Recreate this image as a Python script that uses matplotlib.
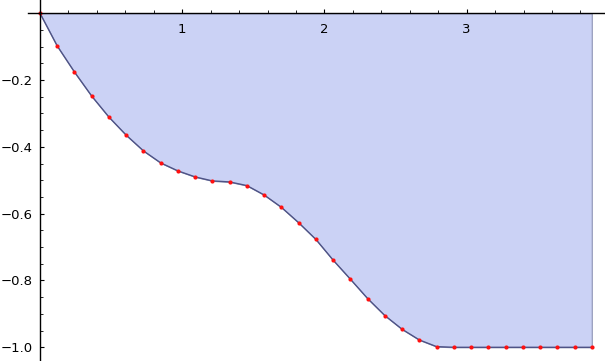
import numpy as np
import matplotlib
matplotlib.use("Agg")
from matplotlib import pyplot as plt
from matplotlib.ticker import MultipleLocator

# sample positions (33 points, step ~0.1213) and values
x_step = 0.12125
x_vals = [i * x_step for i in range(33)]
y_vals = [0.0, -0.098, -0.176, -0.248, -0.311, -0.365, -0.412, -0.448,
          -0.472, -0.490, -0.502, -0.505, -0.516, -0.544, -0.581, -0.627,
          -0.677, -0.739, -0.796, -0.854, -0.905, -0.946, -0.978, -0.998,
          -1.0, -1.0, -1.0, -1.0, -1.0, -1.0, -1.0, -1.0, -1.0]

x_major = [1, 2, 3]
y_major = [-0.2, -0.4, -0.6, -0.8, -1.0]

fig = plt.figure(figsize=(6.05, 3.61), dpi=100)
ax = fig.add_axes([28 / 605, 0, 577 / 605, 1])

x = np.array(x_vals)
y = np.array(y_vals)

ax.fill_between(x, y, 0, facecolor='#cbd2f5', edgecolor='#8e93b5', linewidth=0.8, zorder=1)
ax.plot(x, y, color='#4e5386', linewidth=1.0, zorder=2)
ax.plot(x, y, 'o', color='#ff1010', markersize=3.0, markeredgewidth=0, zorder=3)

ax.set_xlim(-0.084, 3.973)
ax.set_ylim(-1.041, 0.0395)

for s in ['top', 'right']:
	ax.spines[s].set_visible(False)
ax.spines['left'].set_position(('data', 0))
ax.spines['bottom'].set_position(('data', 0))
ax.spines['left'].set_linewidth(1.0)
ax.spines['bottom'].set_linewidth(1.0)
ax.spines['left'].set_zorder(4)
ax.spines['bottom'].set_zorder(4)

ax.set_xticks(x_major)
ax.set_xticklabels([str(v) for v in x_major])
ax.set_yticks(y_major)
ax.set_yticklabels(['\u2212%.1f' % abs(v) for v in y_major])
ax.xaxis.set_minor_locator(MultipleLocator(0.2))
ax.yaxis.set_minor_locator(MultipleLocator(0.05))

ax.tick_params(axis='x', which='major', direction='in', length=3.2, width=0.8, pad=7, labelsize=9.5)
ax.tick_params(axis='x', which='minor', direction='in', length=2.3, width=0.6)
ax.tick_params(axis='y', which='major', direction='in', length=3.2, width=0.8, pad=5, labelsize=9.5)
ax.tick_params(axis='y', which='minor', direction='in', length=2.3, width=0.6)

ax.patch.set_visible(False)

fig.savefig('out.png', dpi=100)
